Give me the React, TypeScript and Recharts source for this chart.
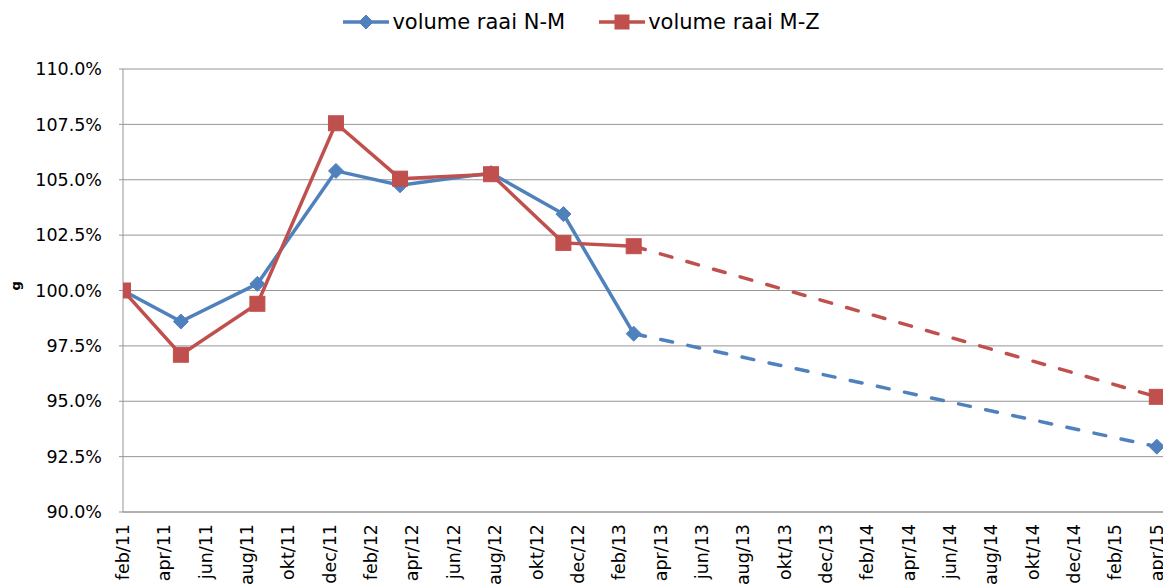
import React from 'react';
import { LineChart, Line, XAxis, YAxis, CartesianGrid, Legend, Label } from 'recharts';

const tickLabels = [
  'feb/11', 'apr/11', 'jun/11', 'aug/11', 'okt/11', 'dec/11',
  'feb/12', 'apr/12', 'jun/12', 'aug/12', 'okt/12', 'dec/12',
  'feb/13', 'apr/13', 'jun/13', 'aug/13', 'okt/13', 'dec/13',
  'feb/14', 'apr/14', 'jun/14', 'aug/14', 'okt/14', 'dec/14',
  'feb/15', 'apr/15',
];
const tickMonths = [0, 2, 4, 6, 8, 10, 12, 14, 16, 18, 20, 22, 24, 26, 28, 30, 32, 34, 36, 38, 40, 42, 44, 46, 48, 50];

// months since feb/11 for each measurement
const pointMonths = [0, 2.8, 6.5, 10.3, 13.4, 17.8, 21.3, 24.7, 50];
const volumeNM = [100.0, 98.6, 100.3, 105.4, 104.75, 105.3, 103.45, 98.05, 92.95];
const volumeMZ = [100.0, 97.1, 99.4, 107.55, 105.05, 105.25, 102.15, 102.0, 95.2];
const lastMeasured = 7; // index of last measured point; after that a projection

const yTicks = [90, 92.5, 95, 97.5, 100, 102.5, 105, 107.5, 110];

const BLUE = '#4F81BD';
const RED = '#C0504D';
const FONT = '"DejaVu Sans", sans-serif';

const data = pointMonths.map((m, i) => ({
  m,
  nm: i <= lastMeasured ? volumeNM[i] : undefined,
  mz: i <= lastMeasured ? volumeMZ[i] : undefined,
  nmProj: i >= lastMeasured ? volumeNM[i] : undefined,
  mzProj: i >= lastMeasured ? volumeMZ[i] : undefined,
}));

const diamond = (cx: number, cy: number, r: number, key?: any) => (
  <polygon key={key} points={`${cx},${cy - r} ${cx + r},${cy} ${cx},${cy + r} ${cx - r},${cy}`} fill={BLUE} stroke={BLUE} strokeWidth={1} />
);
const square = (cx: number, cy: number, r: number, key?: any) => (
  <rect key={key} x={cx - r} y={cy - r} width={2 * r} height={2 * r} fill={RED} stroke={RED} strokeWidth={1} />
);

const makeDot = (kind: 'd' | 's', onlyLast: boolean) => (props: any) => {
  const { cx, cy, index } = props;
  const key = `dot-${kind}-${onlyLast ? 'p' : 'm'}-${index}`;
  if (cx == null || cy == null || (onlyLast && index !== pointMonths.length - 1)) return <g key={key} />;
  return kind === 'd' ? diamond(cx, cy, 7.5, key) : square(cx, cy, 7.5, key);
};

const XTick = (props: any) => {
  const { x, y, payload } = props;
  const idx = tickMonths.indexOf(payload.value);
  return (
    <text x={x} y={y} transform={`rotate(-90, ${x}, ${y})`} textAnchor="end" dominantBaseline="central" fontSize={17.5} fontFamily={FONT} fill="#000">
      {tickLabels[idx]}
    </text>
  );
};

const LegendContent = () => (
  <div style={{ display: 'flex', justifyContent: 'center', alignItems: 'center', fontFamily: FONT, fontSize: 21, color: '#000' }}>
    <svg width={46} height={20} style={{ marginRight: 3 }}>
      <line x1={0} y1={10} x2={46} y2={10} stroke={BLUE} strokeWidth={3.5} />
      {diamond(23, 10, 7)}
    </svg>
    <span>volume raai N-M</span>
    <svg width={46} height={20} style={{ marginLeft: 34, marginRight: 3 }}>
      <line x1={0} y1={10} x2={46} y2={10} stroke={RED} strokeWidth={3.5} />
      {square(23, 10, 7)}
    </svg>
    <span>volume raai M-Z</span>
  </div>
);

export default function App() {
  return (
    <div style={{ position: 'absolute', left: 0, top: 0, width: 1163, height: 588, overflow: 'hidden', background: '#fff' }}>
      <LineChart width={1163} height={620} data={data} margin={{ top: 69, right: 0, bottom: 0, left: 10 }} style={{ fontFamily: FONT }}>
        <CartesianGrid vertical={false} stroke="#969696" strokeWidth={1} />
        <XAxis
          type="number"
          dataKey="m"
          domain={[0, 50.3]}
          ticks={tickMonths}
          interval={0}
          allowDataOverflow
          height={108}
          tickLine={false}
          axisLine={{ stroke: '#969696' }}
          tick={<XTick />}
          tickMargin={6}
        />
        <YAxis
          type="number"
          domain={[90, 110]}
          ticks={yTicks}
          interval={0}
          width={113}
          tickSize={4}
          tickMargin={17}
          axisLine={{ stroke: '#969696' }}
          tickLine={{ stroke: '#969696' }}
          tick={{ fill: '#000', fontSize: 17.5, fontFamily: FONT }}
          tickFormatter={(v: number) => v.toFixed(1) + '%'}
        >
          <Label value="g" angle={-90} position="insideLeft" offset={5} style={{ fontSize: 13, fontWeight: 'bold', fill: '#000', fontFamily: FONT }} />
        </YAxis>
        <Legend layout="horizontal" verticalAlign="middle" align="center" content={<LegendContent />} wrapperStyle={{ top: 10, left: 0, width: 1163 }} />
        <Line dataKey="nm" name="volume raai N-M" stroke={BLUE} strokeWidth={3.5} dot={makeDot('d', false)} activeDot={false} isAnimationActive={false} legendType="diamond" />
        <Line dataKey="nmProj" stroke={BLUE} strokeWidth={3.5} strokeDasharray="12 15.7" strokeLinecap="round" dot={makeDot('d', true)} activeDot={false} isAnimationActive={false} legendType="none" />
        <Line dataKey="mz" name="volume raai M-Z" stroke={RED} strokeWidth={3.5} dot={makeDot('s', false)} activeDot={false} isAnimationActive={false} legendType="square" />
        <Line dataKey="mzProj" stroke={RED} strokeWidth={3.5} strokeDasharray="12 15.7" strokeLinecap="round" dot={makeDot('s', true)} activeDot={false} isAnimationActive={false} legendType="none" />
      </LineChart>
    </div>
  );
}
